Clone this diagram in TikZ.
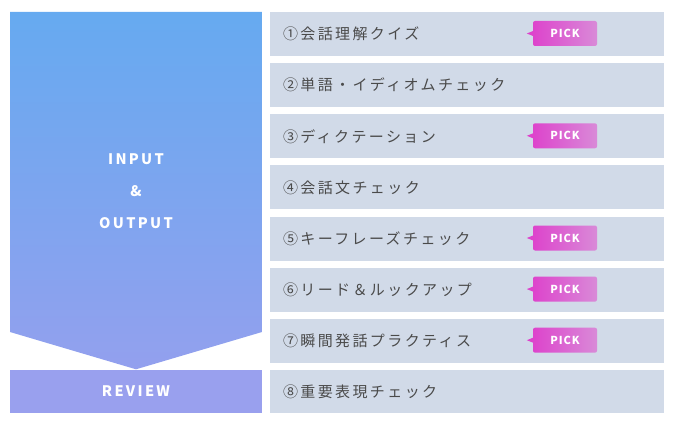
\documentclass[tikz,border=0pt]{standalone}
\usepackage{fontspec}
\setmainfont{Noto Sans CJK JP}
\usetikzlibrary{calc}
\definecolor{rowbg}{HTML}{D1DAE8}
\definecolor{rowtxt}{HTML}{4A4A4A}
\definecolor{arrtop}{HTML}{66AAF0}
\definecolor{arrbot}{HTML}{93A0EE}
\definecolor{revbg}{HTML}{99A0EE}
\definecolor{pickL}{HTML}{DD44CC}
\definecolor{pickR}{HTML}{D98AD8}
\tikzset{
  rowbox/.style={fill=rowbg, draw=none, minimum width=394pt, minimum height=44pt, inner sep=0pt},
  rowtext/.style={anchor=west, inner sep=0pt, text=rowtxt, font=\fontsize{15}{18}\selectfont\addfontfeature{LetterSpace=16}},
  pickbox/.style={left color=pickL, right color=pickR, draw=none, rounded corners=2pt, minimum width=64pt, minimum height=25pt, inner sep=0pt, text=white, font=\fontsize{11}{13}\selectfont\bfseries\addfontfeature{LetterSpace=8}},
  titletext/.style={text=white, inner sep=0pt, font=\fontsize{14.5}{17}\selectfont\bfseries\addfontfeature{LetterSpace=16}},
  revbox/.style={fill=revbg, draw=none, minimum width=252pt, minimum height=43pt, inner sep=0pt, text=white, font=\fontsize{14.5}{17}\selectfont\bfseries\addfontfeature{LetterSpace=16}}
}
\newcommand{\pickpointer}[1]{\fill[pickL] ($(#1.west)+(0.5,-2.6)$) -- ($(#1.west)+(-6,0)$) -- ($(#1.west)+(0.5,2.6)$) -- cycle;}
\begin{document}
\begin{tikzpicture}[x=1pt,y=-1pt]
\useasboundingbox (0,0) rectangle (675,425);
% left arrow
\coordinate (atl) at (10,12);
\coordinate (atr) at (262,12);
\coordinate (abr) at (262,332);
\coordinate (atip) at (136,369.3);
\coordinate (abl) at (10,332);
\shade[top color=arrtop, bottom color=arrbot] (atl) -- (atr) -- (abr) -- (atip) -- (abl) -- cycle;
\node[titletext] (tin) at (136,159) {INPUT};
\node[titletext] (tamp) at (136,191) {\&};
\node[titletext] (tout) at (136,223) {OUTPUT};
\node[revbox] (rev) at (136,391.5) {REVIEW};
% rows
\node[rowbox] (r1) at (467,34) {};
\node[rowbox] (r2) at (467,85.1) {};
\node[rowbox] (r3) at (467,136.3) {};
\node[rowbox] (r4) at (467,187.4) {};
\node[rowbox] (r5) at (467,238.5) {};
\node[rowbox] (r6) at (467,289.6) {};
\node[rowbox] (r7) at (467,340.7) {};
\node[rowbox, minimum height=43pt] (r8) at (467,391.5) {};
\node[rowtext] (t1) at ($(r1.west)+(13,0)$) {①会話理解クイズ};
\node[rowtext] (t2) at ($(r2.west)+(13,0)$) {②単語・イディオムチェック};
\node[rowtext] (t3) at ($(r3.west)+(13,0)$) {③ディクテーション};
\node[rowtext] (t4) at ($(r4.west)+(13,0)$) {④会話文チェック};
\node[rowtext] (t5) at ($(r5.west)+(13,0)$) {⑤キーフレーズチェック};
\node[rowtext] (t6) at ($(r6.west)+(13,0)$) {⑥リード＆ルックアップ};
\node[rowtext] (t7) at ($(r7.west)+(13,0)$) {⑦瞬間発話プラクティス};
\node[rowtext] (t8) at ($(r8.west)+(13,0)$) {⑧重要表現チェック};
% pick badges
\node[pickbox] (p1) at ($(r1.center)+(98,-0.5)$) {PICK};
\node[pickbox] (p3) at ($(r3.center)+(98,-0.5)$) {PICK};
\node[pickbox] (p5) at ($(r5.center)+(98,-0.5)$) {PICK};
\node[pickbox] (p6) at ($(r6.center)+(98,-0.5)$) {PICK};
\node[pickbox] (p7) at ($(r7.center)+(98,-0.5)$) {PICK};
\pickpointer{p1}
\pickpointer{p3}
\pickpointer{p5}
\pickpointer{p6}
\pickpointer{p7}
\end{tikzpicture}
\end{document}
